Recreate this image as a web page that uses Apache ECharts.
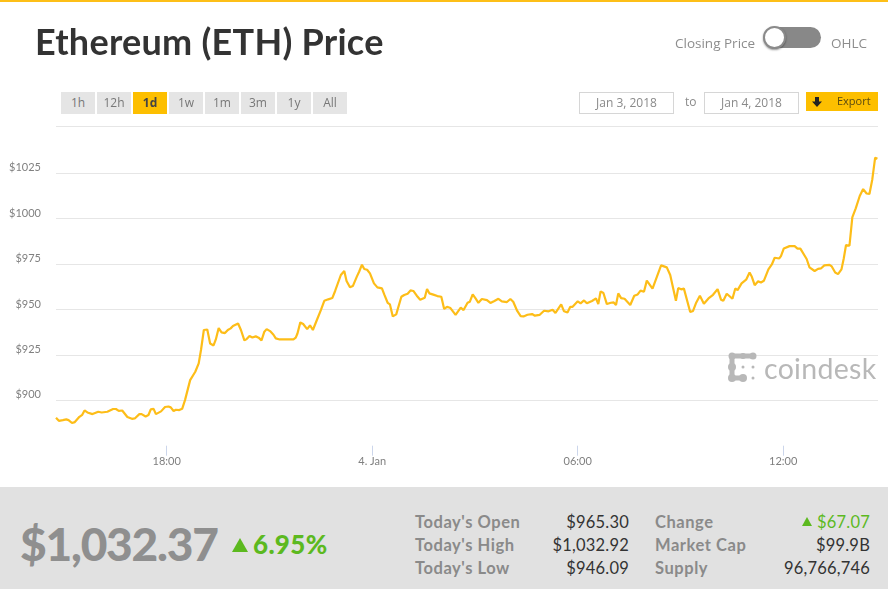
<!DOCTYPE html>
<html>
<head>
<meta charset="utf-8">
<title>Ethereum (ETH) Price</title>
<script src="https://cdn.jsdelivr.net/npm/echarts@6/dist/echarts.min.js"></script>
<style>
  html, body { margin: 0; padding: 0; background: #fff; }
  #page { position: relative; width: 888px; height: 589px; overflow: hidden; font-family: Lato, sans-serif; }
  #lineChart { position: absolute; left: 0; top: 0; width: 888px; height: 589px; }
  .abs { position: absolute; white-space: nowrap; }
  #topbar { left: 0; top: 0; width: 888px; height: 2px; background: #fdbf18; }
  #title { left: 35px; top: 20px; font-size: 36px; line-height: 42px; font-weight: 700; color: #333; letter-spacing: .25px; }
  .toggleText { top: 35px; font-size: 13.500px; line-height: 16px; color: #8d8d8d; font-family: "Open Sans", sans-serif; }
  #track { left: 764px; top: 27px; width: 57px; height: 21px; border-radius: 11px; background: #888; }
  #knob { left: 763px; top: 26px; width: 19px; height: 19px; border-radius: 50%; background: #fff; border: 2px solid #8a8a8a; box-shadow: 0 1px 2px rgba(0,0,0,.4); }
  .range { top: 92px; width: 34px; height: 22px; line-height: 22px; background: #e5e5e5; color: #777; font-size: 12px; text-align: center; font-family: "Open Sans", sans-serif; }
  .range.on { background: #fdbf00; color: #444; font-weight: 700; }
  .date { top: 92px; width: 93px; height: 20px; line-height: 20px; border: 1px solid #d6d6d6; color: #8a8a8a; font-size: 12px; text-align: center; font-family: "Open Sans", sans-serif; }
  #to { left: 685px; top: 94px; font-size: 12px; line-height: 16px; color: #8a8a8a; font-family: "Open Sans", sans-serif; }
  #export { left: 806px; top: 92px; width: 72px; height: 19px; background: #fdbf00; }
  #exportText { left: 837px; top: 93px; font-size: 11px; line-height: 16px; color: #5a4a10; font-family: "Open Sans", sans-serif; }
  #topRule { left: 56px; top: 126px; width: 822px; height: 1px; background: #e6e6e6; }
  #logo { left: 728px; top: 352px; }
  #logoText { left: 764px; top: 349px; font-size: 28.500px; line-height: 38px; color: #b8b8b8; letter-spacing: .3px; }
  #panel { left: 0; top: 487px; width: 888px; height: 102px; background: #e1e1e1; }
  #price { left: 20px; top: 516px; font-size: 46px; line-height: 56px; font-weight: 900; color: #8f8f8f; letter-spacing: -1.200px; }
  #pct { left: 253px; top: 528px; font-size: 26px; line-height: 32px; font-weight: 900; color: #5cb91f; letter-spacing: .3px; }
  #pctArrow { left: 232px; top: 538px; width: 0; height: 0; border-left: 8px solid transparent; border-right: 8px solid transparent; border-bottom: 14px solid #5cb91f; }
  .lbl { font-size: 16.500px; line-height: 20px; font-weight: 700; color: #8a8a8a; letter-spacing: .55px; }
  .val { font-size: 16.500px; line-height: 20px; color: #333; text-align: right; letter-spacing: .2px; }
  #chgArrow { left: 802px; top: 517px; width: 0; height: 0; border-left: 5.500px solid transparent; border-right: 5.500px solid transparent; border-bottom: 9px solid #5cb91f; }
</style>
</head>
<body>
<div id="page">
  <div id="lineChart"></div>
  <div class="abs" id="topbar"></div>
  <div class="abs" id="title">Ethereum (ETH) Price</div>
  <div class="abs toggleText" style="left:675px">Closing Price</div>
  <div class="abs" id="track"></div>
  <div class="abs" id="knob"></div>
  <div class="abs toggleText" style="left:831px">OHLC</div>
  <div id="ranges"></div>
  <div class="abs date" style="left:579px">Jan 3, 2018</div>
  <div class="abs" id="to">to</div>
  <div class="abs date" style="left:704px">Jan 4, 2018</div>
  <div class="abs" id="export">
    <svg width="22" height="19" style="position:absolute;left:0;top:0"><path d="M9 5h4v4.500h3l-5 5.500-5-5.500h3z" fill="#222"/></svg>
  </div>
  <div class="abs" id="exportText">Export</div>
  <div class="abs" id="topRule"></div>
  <svg class="abs" id="logo" width="30" height="32" fill="#b8b8b8">
    <circle cx="4" cy="4" r="3.500"/><circle cx="4" cy="15" r="4"/><circle cx="4" cy="26" r="4"/>
    <circle cx="15" cy="4" r="3"/><circle cx="25" cy="4" r="3.500"/><circle cx="15" cy="26" r="4"/>
    <circle cx="25" cy="26" r="1.500"/><circle cx="15" cy="15" r="1.500"/><circle cx="25" cy="15" r="1.500"/>
    <rect x="3" y="1.500" width="22" height="5"/><rect x="1.500" y="4" width="5" height="22"/><rect x="4" y="23.500" width="11" height="5"/>
  </svg>
  <div class="abs" id="logoText">coindesk</div>
  <div class="abs" id="panel"></div>
  <div class="abs" id="price">$1,032.37</div>
  <div class="abs" id="pctArrow"></div>
  <div class="abs" id="pct">6.95%</div>
  <div class="abs lbl" style="left:415px;top:512px">Today's Open</div>
  <div class="abs lbl" style="left:415px;top:535px">Today's High</div>
  <div class="abs lbl" style="left:415px;top:558px">Today's Low</div>
  <div class="abs val" style="right:259px;top:512px">$965.30</div>
  <div class="abs val" style="right:259px;top:535px">$1,032.92</div>
  <div class="abs val" style="right:259px;top:558px">$946.09</div>
  <div class="abs lbl" style="left:655px;top:512px">Change</div>
  <div class="abs lbl" style="left:655px;top:535px">Market Cap</div>
  <div class="abs lbl" style="left:655px;top:558px">Supply</div>
  <div class="abs" id="chgArrow"></div>
  <div class="abs val" style="right:18px;top:512px;color:#5cb91f">$67.07</div>
  <div class="abs val" style="right:18px;top:535px">$99.9B</div>
  <div class="abs val" style="right:18px;top:558px">96,766,746</div>
</div>
<script>
var rangeLabels = ['1h', '12h', '1d', '1w', '1m', '3m', '1y', 'All'];

// minutes after 14:46 on Jan 3
var minutes = [0, 5, 12, 18, 22, 28, 33, 41, 46, 50, 55, 64, 74, 80, 90, 100, 105, 110, 116, 125, 133, 138, 146, 150, 157, 162, 166, 171, 175, 184, 191, 197, 201, 206, 210, 216, 221, 226, 235, 244, 250, 254, 259, 265, 270, 276, 280, 285, 290, 296, 301, 306, 310, 313, 319, 324, 330, 334, 339, 344, 350, 355, 360, 365, 369, 375, 381, 385, 392, 407, 416, 420, 423, 428, 433, 440, 445, 450, 457, 464, 470, 477, 484, 489, 499, 505, 509, 515, 520, 527, 531, 536, 540, 545, 550, 557, 563, 571, 575, 581, 585, 590, 596, 605, 610, 616, 621, 626, 632, 638, 641, 646, 650, 654, 661, 668, 675, 680, 685, 691, 700, 709, 714, 721, 725, 730, 735, 740, 746, 749, 755, 761, 768, 775, 781, 790, 796, 801, 808, 814, 819, 826, 834, 839, 847, 855, 863, 870, 875, 885, 890, 896, 901, 905, 914, 919, 925, 930, 939, 946, 950, 954, 959, 965, 972, 977, 981, 985, 990, 996, 1006, 1013, 1016, 1019, 1024, 1030, 1035, 1045, 1060, 1070, 1076, 1086, 1090, 1095, 1100, 1111, 1116, 1121, 1128, 1135, 1143, 1151, 1159, 1165, 1169, 1175, 1185, 1190, 1194, 1201, 1209, 1215, 1219, 1224, 1230, 1235, 1240, 1248, 1254, 1259, 1267, 1270, 1275, 1285, 1294, 1299, 1304, 1315, 1320, 1329, 1335, 1340, 1346, 1355, 1359, 1365, 1370, 1376, 1380, 1384, 1390, 1395, 1401, 1408, 1414, 1420, 1425, 1430, 1435, 1439];
var prices = [890.4, 888.7, 889.1, 889.5, 889.1, 887.5, 888, 890.9, 892, 894.4, 893.3, 892.4, 893.7, 893.3, 893.7, 895.2, 895.2, 894.2, 894.4, 890.8, 889.8, 890, 892.4, 892.4, 891.1, 891.9, 895, 895.3, 892.4, 893.9, 896.3, 896.6, 896.1, 894.1, 894.8, 894.6, 895.3, 900.1, 911.1, 915.7, 920.3, 927.7, 938.7, 939, 931.3, 930.2, 933.5, 939.8, 937.4, 937, 938.7, 939.6, 940.9, 942, 942.3, 938.7, 933, 933.7, 935.4, 934.6, 935.2, 934.5, 933, 937.8, 939.2, 938.1, 936.1, 934.1, 933.5, 933.5, 933.5, 934.5, 936.8, 942.9, 942, 939.2, 941.3, 938.7, 944.2, 949.7, 954.8, 955.6, 956.3, 960.2, 969, 971.2, 965.7, 962.2, 962.9, 968.1, 970.8, 974.7, 972.3, 971.9, 969.9, 964.4, 962.2, 961.6, 958.3, 953.7, 952.8, 946.2, 947.3, 957, 958, 958.7, 960.5, 960.2, 957.6, 955.4, 954.8, 956.5, 961.3, 958.9, 958.2, 957.4, 957, 950.3, 951.5, 950.8, 947, 951, 949.7, 953.7, 954.3, 958.3, 956.1, 953.7, 955.8, 956.1, 955.2, 953.6, 954.7, 955.9, 954.5, 954.1, 955.8, 954.3, 949.2, 946.4, 946.2, 947.1, 947.5, 946.6, 947, 949.3, 949, 949.9, 948.1, 952.8, 949, 948.4, 951.5, 951.5, 954.5, 953.4, 955, 953.4, 954.7, 956.1, 953, 960, 959.1, 953, 953.7, 953.9, 952.5, 958.9, 956.3, 955.9, 952.5, 957.6, 958.7, 958.3, 960.4, 959.8, 965.9, 961.5, 974.3, 973.2, 969, 954.8, 961.8, 961.1, 961.5, 948.6, 949.2, 953.4, 957.6, 953.2, 956.1, 958.1, 961.2, 955.4, 954.8, 958.7, 955.9, 961.6, 960.7, 964.4, 966.4, 970.4, 968, 963.4, 965.5, 964.9, 965.8, 972.1, 974.8, 978.5, 978.1, 979.4, 983.6, 984.9, 984.9, 983.5, 983.5, 977.8, 973.2, 971.2, 972.4, 972.6, 974.3, 974.6, 973.7, 970.4, 969.5, 972.1, 978.1, 985.5, 985.1, 1000.7, 1005.7, 1012.5, 1016.3, 1013.9, 1013.6, 1021.6, 1033.6, 1033];
var tickMinutes = [194, 554, 914, 1274];
var tickLabels = ['18:00', '4. Jan', '06:00', '12:00'];

// range buttons are plain page chrome
var rangeHtml = '';
rangeLabels.forEach(function (label, i) {
  rangeHtml += '<div class="abs range' + (label === '1d' ? ' on' : '') + '" style="left:' + (61 + i * 36) + 'px">' + label + '</div>';
});
document.getElementById('ranges').innerHTML = rangeHtml;

var lineDom = document.getElementById('lineChart');
var lineChart = echarts.init(lineDom);

var lineOption = {
  animation: false,
  grid: { top: 127.9, bottom: 143.3, left: 56, right: 10 },
  xAxis: {
    type: 'value',
    min: 0,
    max: 1440,
    splitLine: { show: false },
    axisLine: { show: false },
    axisTick: { show: true, customValues: tickMinutes, length: 10, lineStyle: { color: '#ccd6eb', width: 1 } },
    axisLabel: {
      customValues: tickMinutes,
      margin: 10,
      color: '#7f7f7f',
      fontSize: 11,
      fontFamily: 'Lato',
      formatter: function (value) {
        return tickLabels[tickMinutes.indexOf(value)];
      }
    }
  },
  yAxis: {
    type: 'value',
    min: 875,
    max: 1050,
    interval: 25,
    axisLine: { show: false },
    axisTick: { show: false },
    splitLine: { showMinLine: false, showMaxLine: false, lineStyle: { color: '#e6e6e6', width: 1 } },
    axisLabel: {
      margin: 15,
      verticalAlign: 'bottom',
      color: '#808080',
      fontSize: 11,
      fontFamily: 'Lato',
      formatter: function (value) {
        return value >= 900 && value <= 1025 ? '$' + value : '';
      }
    }
  },
  series: [
    {
      type: 'line',
      data: minutes.map(function (m, i) { return [m, prices[i]]; }),
      showSymbol: false,
      smooth: false,
      lineStyle: { color: '#fdbd18', width: 2.2 }
    }
  ]
};

lineChart.setOption(lineOption);

window.addEventListener('resize', function () {
  lineChart.resize();
});
</script>
</body>
</html>
